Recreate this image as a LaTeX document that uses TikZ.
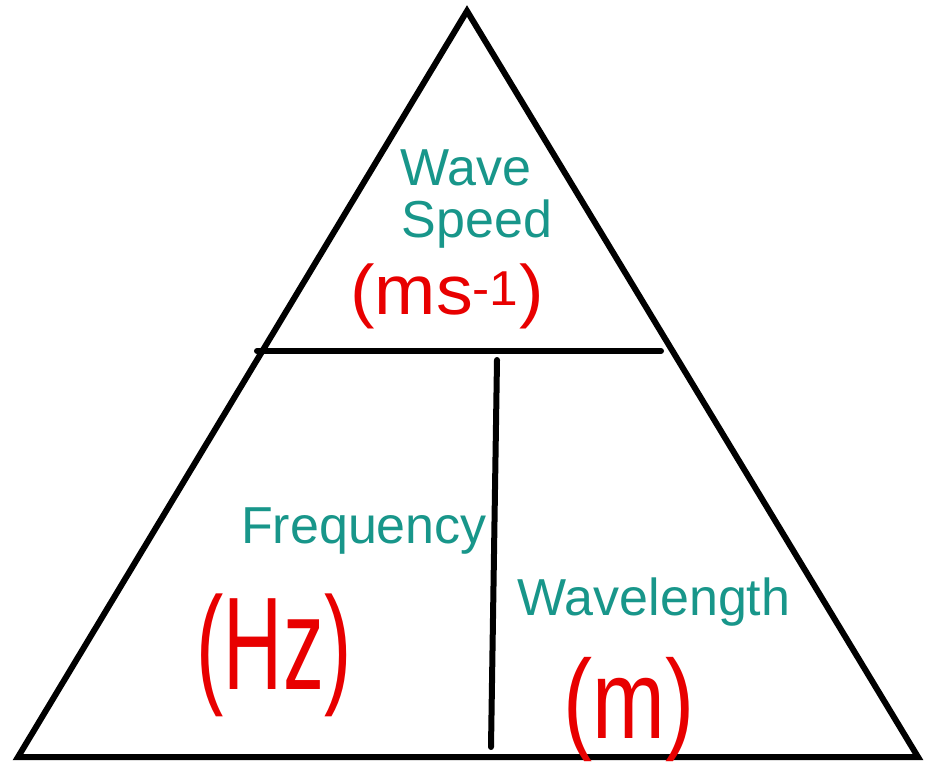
\documentclass[tikz,border=0pt]{standalone}
\usepackage{fontspec}
\setmainfont{Liberation Sans}
\definecolor{teal}{RGB}{24,150,138}
\definecolor{hand}{RGB}{232,0,0}
\begin{document}
\begin{tikzpicture}[x=1pt,y=-1pt,
  edge/.style={line width=6pt,black,line cap=round,line join=miter},
  label/.style={text=teal,font=\fontsize{52}{58}\selectfont,anchor=base,inner sep=0pt},
  unit/.style={text=hand,inner sep=0pt}]
\useasboundingbox (0,0) rectangle (931,772);
\fill[white] (0,0) rectangle (931,772);
\coordinate (top) at (467,11);
\coordinate (bl) at (18,757);
\coordinate (br) at (918,757);
\coordinate (hl) at (257,351);
\coordinate (hr) at (661,351);
\coordinate (vt) at (497,360);
\coordinate (vb) at (491,747);
\draw[edge,line cap=butt] (top) -- (br) -- (bl) -- cycle;
\draw[edge] (hl) -- (hr);
\draw[edge] (vt) -- (vb);
\node[label] (wave) at (466,185) {Wave};
\node[label] (speed) at (477,237) {Speed};
\node[label] (freq) at (364,543) {Frequency};
\node[label] (wavel) at (654,615) {Wavelength};
\node[unit,font=\fontsize{70}{70}\selectfont,xscale=1.05] (u1) at (447,296) {(ms\textsuperscript{-1})};
\node[unit,font=\fontsize{132}{132}\selectfont,xscale=0.62] (u2) at (274,655) {(Hz)};
\node[unit,font=\fontsize{112}{112}\selectfont,xscale=0.78] (u3) at (629,710) {(m)};
\end{tikzpicture}
\end{document}
